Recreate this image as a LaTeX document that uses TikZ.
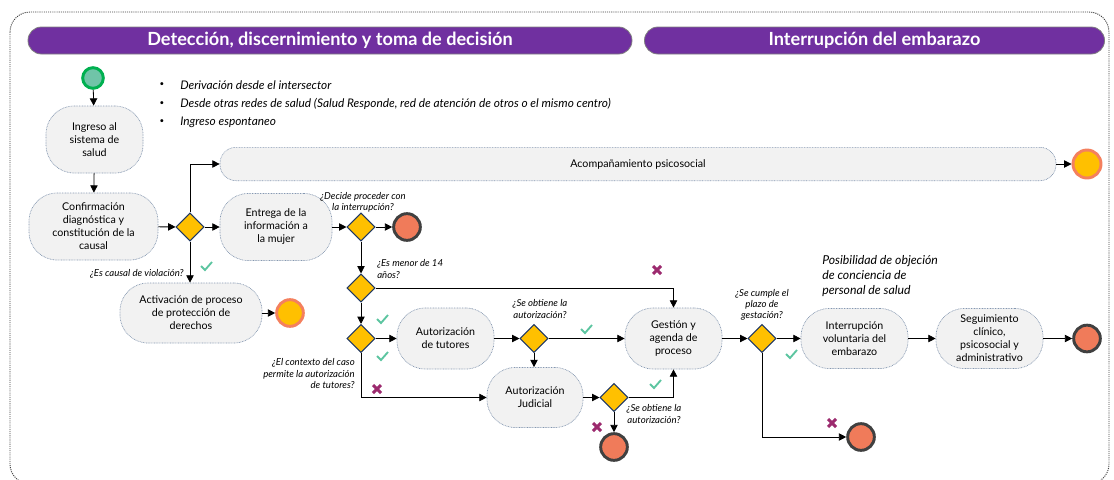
\documentclass[tikz,border=0pt]{standalone}
\usepackage{fontspec}
\setmainfont{Lato}
\usetikzlibrary{arrows.meta,shapes.geometric}
\definecolor{hdr}{HTML}{7030A0}
\definecolor{boxfill}{HTML}{F2F2F2}
\definecolor{boxline}{HTML}{8497B0}
\definecolor{dia}{HTML}{FFC000}
\definecolor{dialine}{HTML}{1F3864}
\definecolor{endred}{HTML}{F07B5A}
\definecolor{endgray}{HTML}{404040}
\definecolor{salmon}{HTML}{F4805E}
\definecolor{stfill}{HTML}{70C4A8}
\definecolor{stline}{HTML}{00B050}
\definecolor{chkc}{HTML}{5CC5A0}
\definecolor{crossc}{HTML}{9C2A6E}
\tikzset{
  proc/.style={rectangle, rounded corners=21pt, fill=boxfill, draw=boxline, dash pattern=on 0.6pt off 0.6pt, line width=0.5pt, align=center, font=\fontsize{8}{9.75}\selectfont, inner sep=1pt},
  dec/.style={diamond, aspect=1, minimum width=21pt, minimum height=21pt, inner sep=0pt, fill=dia, draw=dialine, line width=0.8pt},
  endr/.style={circle, minimum size=20pt, inner sep=0pt, fill=endred, draw=endgray, line width=2.2pt},
  endo/.style={circle, minimum size=20pt, inner sep=0pt, fill=dia, draw=salmon, line width=2.2pt},
  startc/.style={circle, minimum size=15.5pt, inner sep=0pt, fill=stfill, draw=stline, line width=2.2pt},
  arr/.style={-{Triangle[length=5.5pt,width=5.5pt]}, line width=0.6pt, black},
  lbl/.style={font=\fontsize{7.2}{8.3}\selectfont\itshape, inner sep=0pt, text=black},
  hbar/.style={rectangle, rounded corners=10pt, fill=hdr, draw=gray, line width=0.6pt, text=white, font=\fontsize{13.6}{15}\selectfont\bfseries},
  bul/.style={font=\fontsize{8.9}{10}\selectfont\itshape, inner sep=0pt, anchor=west},
  buld/.style={font=\fontsize{6}{7}\selectfont, inner sep=0pt},
  chk/.pic={\draw[chkc, line width=1.4pt] (-5,0) -- (-1,4) -- (6,-4);},
  crs/.pic={\draw[crossc, line width=2.2pt] (-4,-4) -- (4,4) (-4,4) -- (4,-4);}
}
\begin{document}
\begin{tikzpicture}[x=0.75pt,y=-0.75pt]
\useasboundingbox (0,0) rectangle (1114,479);
\clip (0,0) rectangle (1114,479);
\draw[dash pattern=on 0.8pt off 0.8pt, black!75, line width=0.7pt, rounded corners=15pt] (10,12) rectangle (1109,484);

% headers
\node[hbar, minimum width=453pt, minimum height=20.25pt] (h1) at (330,40.5) {Detección, discernimiento y toma de decisión};
\node[hbar, minimum width=345pt, minimum height=20.25pt] (h2) at (874.5,40.5) {Interrupción del embarazo};

% bullets
\node[buld] (b1d) at (162,85) {•};
\node[bul] (b1) at (180,85) {Derivación desde el intersector};
\node[buld] (b2d) at (162,103.5) {•};
\node[bul] (b2) at (180,103.5) {Desde otras redes de salud (Salud Responde, red de atención de otros o el mismo centro)};
\node[buld] (b3d) at (162,122) {•};
\node[bul] (b3) at (180,122) {Ingreso espontaneo};

% nodes
\node[startc] (start) at (93,78) {};
\node[proc, minimum width=72.75pt, minimum height=50.25pt] (ingreso) at (94.5,139.5) {Ingreso al\\sistema de\\salud};
\node[proc, minimum width=96.75pt, minimum height=50.25pt] (confirm) at (93.5,226.5) {Confirmación\\diagnóstica y\\constitución de la\\causal};
\node[dec] (d1) at (190,227) {};
\node[proc, minimum width=84pt, minimum height=50.25pt] (entrega) at (276,227) {Entrega de la\\información a\\la mujer};
\node[proc, rounded corners=12pt, minimum width=627pt, minimum height=25pt] (acomp) at (638,164) {Acompañamiento psicosocial};
\node[endo, minimum size=21pt] (endB) at (1087,164) {};
\node[proc, minimum width=106.5pt, minimum height=45pt] (activ) at (191,313) {Activación de proceso\\de protección de\\derechos};
\node[endo] (endA) at (290,313) {};
\node[dec] (d2) at (361,227) {};
\node[endr] (endC) at (407,227) {};
\node[dec] (d3) at (361,288) {};
\node[dec] (d4) at (361,338.5) {};
\node[proc, minimum width=72.75pt, minimum height=45.75pt] (tutores) at (445.5,338.5) {Autorización\\de tutores};
\node[dec] (d5) at (534,338.5) {};
\node[proc, minimum width=72.75pt, minimum height=45.75pt] (gestion) at (673.5,338.5) {Gestión y\\agenda de\\proceso};
\node[proc, minimum width=72pt, minimum height=45pt] (judicial) at (535,397.5) {Autorización\\Judicial};
\node[dec] (d6) at (614,397.5) {};
\node[endr] (endD) at (614,447) {};
\node[dec] (d7) at (762,338.5) {};
\node[proc, minimum width=80.25pt, minimum height=45pt] (interr) at (854.5,338.5) {Interrupción\\voluntaria del\\embarazo};
\node[proc, minimum width=80.25pt, minimum height=45pt] (seguim) at (989.5,338.5) {Seguimiento\\clínico,\\psicosocial y\\administrativo};
\node[endr] (endF) at (1087,338.5) {};
\node[endr] (endE) at (861,437) {};

% labels
\node[lbl, anchor=east] (l1) at (184,274) {¿Es causal de violación?};
\node[lbl, align=center] (l2) at (363,202.5) {¿Decide proceder con\\la interrupción?};
\node[lbl, align=left, anchor=west] (l3) at (377,269) {¿Es menor de 14\\años?};
\node[lbl, align=right, anchor=east] (l4) at (355,373.5) {¿El contexto del caso\\permite la autorización\\de tutores?};
\node[lbl, align=center] (l5) at (540,309) {¿Se obtiene la\\autorización?};
\node[lbl, align=center] (l6) at (654,414) {¿Se obtiene la\\autorización?};
\node[lbl, align=center] (l7) at (762,305) {¿Se cumple el\\plazo de\\gestación?};
\node[font=\fontsize{9.2}{10.9}\selectfont\itshape, align=left, anchor=west, inner sep=0pt] (l8) at (822,276) {Posibilidad de objeción\\de conciencia de\\personal de salud};

% marks
\pic at (206,266) {chk};
\pic at (382,319) {chk};
\pic at (382,356) {chk};
\pic at (586,329) {chk};
\pic at (655,384) {chk};
\pic at (791,354) {chk};
\pic at (657,270) {crs};
\pic at (377,389) {crs};
\pic at (597,427) {crs};
\pic at (832,423) {crs};

% connectors
\draw[arr] (start) -- (ingreso);
\draw[arr] (ingreso) -- (confirm);
\draw[arr] (confirm) -- (d1);
\draw[arr] (d1) -- (entrega);
\draw[arr] (d1.north) |- (acomp.west);
\draw[arr] (d1.south) -- (d1.south |- activ.north);
\draw[arr] (activ) -- (endA);
\draw[arr] (acomp) -- (endB);
\draw[arr] (entrega) -- (d2);
\draw[arr] (d2) -- (endC);
\draw[arr] (d2) -- (d3);
\draw[arr] (d3.east) -| (gestion.north);
\draw[arr] (d3) -- (d4);
\draw[arr] (d4) -- (tutores);
\draw[arr] (d4.south) |- (judicial.west);
\draw[arr] (tutores) -- (d5);
\draw[arr] (d5) -- (gestion);
\draw[arr] (d5.south) -- (d5.south |- judicial.north);
\draw[arr] (judicial) -- (d6);
\draw[arr] (d6.east) -| (gestion.south);
\draw[arr] (d6) -- (endD);
\draw[arr] (gestion) -- (d7);
\draw[arr] (d7) -- (interr);
\draw[arr] (d7.south) |- (endE.west);
\draw[arr] (interr) -- (seguim);
\draw[arr] (seguim) -- (endF);
\end{tikzpicture}
\end{document}
